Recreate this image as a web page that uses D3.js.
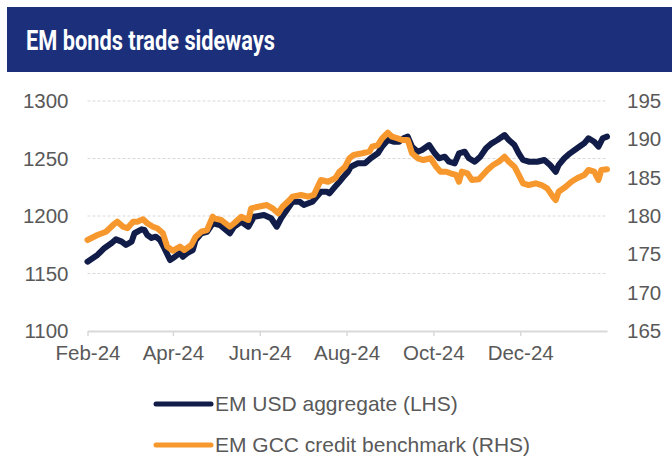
<!DOCTYPE html>
<html>
<head>
<meta charset="utf-8">
<script src="https://cdn.jsdelivr.net/npm/d3@7"></script>
<style>
  body { margin: 0; background: #fff; }
  svg text { font-family: "Liberation Sans", Arial, sans-serif; }
</style>
</head>
<body>
<div id="chart"></div>
<script>
// EM USD aggregate (left axis) - dates and index levels
var usdDates = ["2024-02-01","2024-02-08","2024-02-13","2024-02-18","2024-02-21","2024-02-25","2024-02-28",
  "2024-03-03","2024-03-05","2024-03-10","2024-03-12","2024-03-14","2024-03-17","2024-03-20","2024-03-23",
  "2024-03-26","2024-03-30","2024-04-02","2024-04-06","2024-04-08","2024-04-11","2024-04-15","2024-04-17",
  "2024-04-21","2024-04-25","2024-04-29","2024-05-04","2024-05-11","2024-05-14","2024-05-19","2024-05-24",
  "2024-05-28","2024-06-04","2024-06-09","2024-06-13","2024-06-16","2024-06-20","2024-06-24","2024-06-29",
  "2024-07-02","2024-07-08","2024-07-14","2024-07-18","2024-07-20","2024-07-24","2024-07-27","2024-07-30",
  "2024-08-02","2024-08-04","2024-08-09","2024-08-14","2024-08-18","2024-08-23","2024-08-26","2024-08-30",
  "2024-09-03","2024-09-07","2024-09-10","2024-09-13","2024-09-16","2024-09-20","2024-09-23","2024-09-28",
  "2024-10-02","2024-10-05","2024-10-09","2024-10-12","2024-10-16","2024-10-19","2024-10-23","2024-10-26",
  "2024-10-30","2024-11-03","2024-11-07","2024-11-11","2024-11-15","2024-11-20","2024-11-23","2024-11-27",
  "2024-11-30","2024-12-03","2024-12-07","2024-12-13","2024-12-18","2024-12-22","2024-12-26","2024-12-28",
  "2025-01-01","2025-01-05","2025-01-10","2025-01-15","2025-01-18","2025-01-22","2025-01-25","2025-01-28",
  "2025-01-31"];
var usdValues = [1160.3,1166.1,1172.2,1176.5,1179.7,1177.7,1174.8,
  1177.7,1185,1188.4,1187.8,1183.5,1180.9,1182,1179.1,
  1172,1161.7,1164.1,1168.1,1164.6,1167.6,1170.4,1179.1,
  1185,1186.3,1193.7,1192.2,1185,1190.7,1195,1190.7,
  1199.4,1200.9,1198,1190.7,1198,1205.2,1212.4,1212.4,
  1209.6,1212.4,1221.1,1221.1,1219.7,1225.5,1229.8,1234.2,
  1238.5,1242.9,1245.8,1245.8,1250.2,1254.5,1260.3,1266.1,
  1264.6,1264.6,1267.6,1269,1260.3,1255.9,1257.4,1261.7,
  1254.5,1250.2,1251.6,1247.2,1245.8,1254.5,1255.9,1250.2,
  1247.2,1251.6,1258.9,1263.2,1266.1,1270.4,1266.1,1261.7,
  1254.5,1248.7,1247.2,1247.2,1248.7,1244.3,1238.5,1244.3,
  1250.2,1254.5,1258.9,1263.2,1267.6,1264.6,1260.3,1267.6,
  1269];

// EM GCC credit benchmark (right axis)
var gccDates = ["2024-02-01","2024-02-08","2024-02-14","2024-02-19","2024-02-22","2024-02-26","2024-02-29",
  "2024-03-04","2024-03-07","2024-03-11","2024-03-14","2024-03-18","2024-03-21","2024-03-25","2024-03-28",
  "2024-04-01","2024-04-06","2024-04-09","2024-04-14","2024-04-17","2024-04-21","2024-04-25","2024-04-29",
  "2024-04-30","2024-05-05","2024-05-11","2024-05-14","2024-05-19","2024-05-24","2024-05-26","2024-05-31",
  "2024-06-06","2024-06-10","2024-06-14","2024-06-17","2024-06-22","2024-06-24","2024-06-30","2024-07-05",
  "2024-07-09","2024-07-14","2024-07-19","2024-07-24","2024-07-27","2024-07-31","2024-08-03","2024-08-06",
  "2024-08-12","2024-08-17","2024-08-19","2024-08-23","2024-08-26","2024-08-30","2024-09-02","2024-09-06",
  "2024-09-09","2024-09-13","2024-09-16","2024-09-20","2024-09-24","2024-09-29","2024-10-03","2024-10-06",
  "2024-10-10","2024-10-13","2024-10-17","2024-10-19","2024-10-21","2024-10-25","2024-10-28","2024-11-02",
  "2024-11-08","2024-11-12","2024-11-16","2024-11-20","2024-11-23","2024-11-27","2024-11-30","2024-12-03",
  "2024-12-07","2024-12-12","2024-12-16","2024-12-20","2024-12-24","2024-12-26","2024-12-28","2025-01-02",
  "2025-01-06","2025-01-10","2025-01-15","2025-01-18","2025-01-22","2025-01-25","2025-01-27","2025-01-31"];
var gccValues = [176.87,177.52,177.95,178.83,179.26,178.6,178.4,
  179.26,179.26,179.57,179.05,178.6,178.4,177.74,176,
  175.47,176,175.56,176.22,177.3,177.95,178.17,179.91,
  179.7,179.48,178.6,179.05,179.91,179.48,181,181.21,
  181.43,181,180.35,181.21,182.09,182.52,182.74,182.52,
  182.74,184.7,184.47,184.92,185.78,186.43,187.53,187.96,
  188.18,188.39,189.04,189.26,190.13,190.86,190.34,190.13,
  189.91,189.91,188.18,187.53,187.3,187.53,186.43,185.78,
  185.78,185.57,185.35,184.47,185.78,185.57,184.7,184.79,
  186,186.65,187.08,187.73,187.08,186.43,185.35,184.26,
  184.04,184.26,184.04,183.61,182.52,182.09,183.17,183.82,
  184.47,184.92,185.35,186,185.78,184.7,186,186.09];

var leftTicks = [1100, 1150, 1200, 1250, 1300];
var rightTicks = [165, 170, 175, 180, 185, 190, 195];
var xTickDates = ["2024-02-01","2024-04-01","2024-06-01","2024-08-01","2024-10-01","2024-12-01"];
var seriesNames = ["EM USD aggregate (LHS)", "EM GCC credit benchmark (RHS)"];
var seriesColors = ["#111d48", "#f7982e"];

var svgWidth = 672, svgHeight = 459;
// plot box in pixels
var margin = {top: 101, right: 65, bottom: 128, left: 87.5};
var width = svgWidth - margin.left - margin.right;
var height = svgHeight - margin.top - margin.bottom;
var labelSize = "20.5px";

var parse = d3.timeParse("%Y-%m-%d");
var usd = usdDates.map((d, i) => ({date: parse(d), value: usdValues[i]}));
var gcc = gccDates.map((d, i) => ({date: parse(d), value: gccValues[i]}));

var svg = d3.select("#chart").append("svg")
  .attr("width", svgWidth)
  .attr("height", svgHeight);

// title bar
svg.append("rect")
  .attr("x", 7).attr("y", 7)
  .attr("width", svgWidth - 7).attr("height", 65)
  .attr("fill", "#1b2f7b");
svg.append("text")
  .attr("x", 26).attr("y", 50)
  .attr("fill", "#fff")
  .style("font-family", "Roboto, 'Liberation Sans', sans-serif")
  .style("font-weight", "bold")
  .style("font-size", "28px")
  .attr("textLength", 249)
  .attr("lengthAdjust", "spacingAndGlyphs")
  .text("EM bonds trade sideways");

var chartGroup = svg.append("g")
  .attr("transform", `translate(${margin.left}, ${margin.top})`);

var x = d3.scaleTime()
  .domain([parse("2024-02-01"), parse("2025-01-31")])
  .range([0, width]);
var yLeft = d3.scaleLinear().domain([1100, 1300]).range([height, 0]);
var yRight = d3.scaleLinear().domain([165, 195]).range([height, 0]);

// gridlines (dashed) except the bottom one which is the axis line
chartGroup.selectAll(".grid")
  .data(leftTicks.filter(t => t > 1100))
  .enter().append("line")
  .attr("x1", 0).attr("x2", width)
  .attr("y1", d => yLeft(d)).attr("y2", d => yLeft(d))
  .attr("stroke", "#d9d9d9")
  .attr("stroke-width", 1)
  .attr("stroke-dasharray", "3,2");

// x axis
var bottomAxis = d3.axisBottom(x)
  .tickValues(xTickDates.map(parse))
  .tickFormat(d3.timeFormat("%b-%y"))
  .tickSizeInner(5).tickSizeOuter(0).tickPadding(9);
var xg = chartGroup.append("g")
  .attr("transform", `translate(0, ${height})`)
  .call(bottomAxis);
xg.select(".domain").attr("stroke", "#d9d9d9").attr("stroke-width", 2);
xg.selectAll(".tick line").attr("stroke", "#d9d9d9").attr("stroke-width", 1.5);
xg.selectAll(".tick text")
  .attr("fill", "#595959")
  .style("font-size", labelSize)
  .style("font-family", "'Liberation Sans', Arial, sans-serif");

// left axis
var leftAxis = d3.axisLeft(yLeft).tickValues(leftTicks).tickFormat(d3.format("d"))
  .tickSize(0).tickPadding(19);
var lg = chartGroup.append("g").call(leftAxis);
lg.select(".domain").remove();
lg.selectAll(".tick text")
  .attr("fill", "#595959")
  .style("font-size", labelSize)
  .style("font-family", "'Liberation Sans', Arial, sans-serif");

// right axis
var rightAxis = d3.axisRight(yRight).tickValues(rightTicks).tickSize(0).tickPadding(20);
var rg = chartGroup.append("g")
  .attr("transform", `translate(${width}, 0)`)
  .call(rightAxis);
rg.select(".domain").remove();
rg.selectAll(".tick text")
  .attr("fill", "#595959")
  .style("font-size", labelSize)
  .style("font-family", "'Liberation Sans', Arial, sans-serif");

// lines
var usdLine = d3.line().x(d => x(d.date)).y(d => yLeft(d.value));
var gccLine = d3.line().x(d => x(d.date)).y(d => yRight(d.value));

chartGroup.append("path")
  .datum(usd)
  .attr("d", usdLine)
  .attr("fill", "none")
  .attr("stroke", seriesColors[0])
  .attr("stroke-width", 6)
  .attr("stroke-linejoin", "round")
  .attr("stroke-linecap", "round");

chartGroup.append("path")
  .datum(gcc)
  .attr("d", gccLine)
  .attr("fill", "none")
  .attr("stroke", seriesColors[1])
  .attr("stroke-width", 6)
  .attr("stroke-linejoin", "round")
  .attr("stroke-linecap", "round");

// legend
var legend = svg.selectAll(".legend")
  .data(seriesNames)
  .enter().append("g")
  .attr("transform", (d, i) => `translate(156, ${404 + i * 41})`);
legend.append("line")
  .attr("x1", 0).attr("x2", 55)
  .attr("stroke", (d, i) => seriesColors[i])
  .attr("stroke-width", 5)
  .attr("stroke-linecap", "round");
legend.append("text")
  .attr("x", 59).attr("dy", "0.35em")
  .attr("fill", "#595959")
  .style("font-size", "21px")
  .text(d => d);
</script>
</body>
</html>
